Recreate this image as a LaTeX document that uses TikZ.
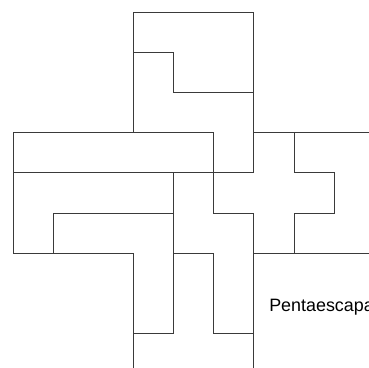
\documentclass[tikz,border=0pt]{standalone}
\usepackage{fontspec}
\setmainfont{Liberation Sans}
\usepackage{tikz}
\usetikzlibrary{positioning}
\definecolor{cEdge}{HTML}{3A3A3A}
\tikzset{
  tile/.style = {draw=cEdge, line width=0.6pt, line join=miter},
  cut/.style  = {draw=cEdge, line width=0.6pt},
  lab/.style  = {font=\fontsize{12.7}{14}\selectfont, inner sep=0pt, anchor=base west},
}

\begin{document}
\begin{tikzpicture}
  \useasboundingbox (-0.332,-8.840) rectangle (8.870,0.312);
  \clip (-0.332,-8.840) rectangle (8.870,0.312);

  % whole pentominoes
  \draw[tile] (3,0) -- (6,0) -- (6,-2) -- (4,-2) -- (4,-1) -- (3,-1) -- cycle;
  \draw[tile] (3,-1) -- (4,-1) -- (4,-2) -- (6,-2) -- (6,-4) -- (5,-4) -- (5,-3) -- (3,-3) -- cycle;
  \draw[tile] (0,-3) -- (5,-3) -- (5,-4) -- (0,-4) -- cycle;
  \draw[tile] (0,-4) -- (4,-4) -- (4,-5) -- (1,-5) -- (1,-6) -- (0,-6) -- cycle;
  \draw[tile] (1,-5) -- (4,-5) -- (4,-8) -- (3,-8) -- (3,-6) -- (1,-6) -- cycle;
  \draw[tile] (4,-4) -- (5,-4) -- (5,-5) -- (6,-5) -- (6,-8) -- (5,-8) -- (5,-6) -- (4,-6) -- cycle;
  \draw[tile] (6,-3) -- (7,-3) -- (7,-4) -- (8,-4) -- (8,-5) -- (7,-5) -- (7,-6) -- (6,-6)
              -- (6,-5) -- (5,-5) -- (5,-4) -- (6,-4) -- cycle;

  % pieces running off the edge
  \draw[cut] (7,-3) -- (9,-3);
  \draw[cut] (7,-6) -- (9,-6);
  \draw[cut] (3,-8) -- (3,-9);
  \draw[cut] (6,-8) -- (6,-9);

  \node[lab] (name) at (6.376,-7.456) {Pentaescapa};
\end{tikzpicture}
\end{document}
